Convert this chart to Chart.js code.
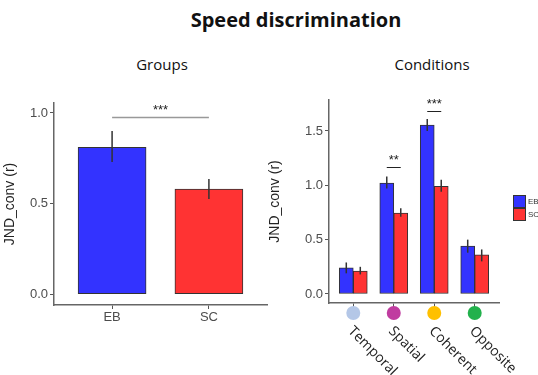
<!DOCTYPE html>
<html>
<head>
<meta charset="utf-8">
<script src="https://cdn.jsdelivr.net/npm/chart.js@4.4.1/dist/chart.umd.min.js"></script>
<style>
body { margin: 0; background: #fff; }
#wrap { position: relative; width: 538px; height: 375px; overflow: hidden; background: #fff; font-family: "Open Sans", sans-serif; }
.ttl { position: absolute; white-space: nowrap; transform: translateX(-50%); color: #111; }
.leg { position: absolute; left: 513px; width: 11px; height: 11px; border: 1px solid #333; }
.legt { position: absolute; left: 528px; font: 8px "Liberation Sans", Arial, sans-serif; color: #333; }
</style>
</head>
<body>
<div id="wrap">
  <div class="ttl" style="left:296px; top:6px; font-size:20px; font-weight:bold;">Speed discrimination</div>
  <div class="ttl" style="left:162px; top:54px; font-size:15px;">Groups</div>
  <div class="ttl" style="left:432px; top:54px; font-size:15px;">Conditions</div>
  <canvas id="chart-groups" style="position:absolute; left:0; top:85px;" width="275" height="240"></canvas>
  <canvas id="chart-conditions" style="position:absolute; left:265px; top:85px;" width="273" height="290"></canvas>
  <div class="leg" style="top:195px; background:#3333ff;"></div>
  <div class="leg" style="top:208px; background:#ff3333;"></div>
  <div class="legt" style="top:197px;">EB</div>
  <div class="legt" style="top:210px;">SC</div>
</div>
<script>
// groups panel
const groups = ['EB', 'SC'];
const groupMeans = [0.81, 0.58];
const groupLow = [0.73, 0.525];
const groupHigh = [0.90, 0.635];
const groupSig = [{ from: 1, to: 2, y: 0.978, label: '***' }];

// conditions panel
const conditions = ['Temporal', 'Spatial', 'Coherent', 'Opposite'];
const conditionDots = ['#b4c7e7', '#c03ca0', '#ffc000', '#22b14c'];
const ebMeans = [0.24, 1.02, 1.555, 0.44];
const ebLow = [0.19, 0.97, 1.50, 0.38];
const ebHigh = [0.29, 1.08, 1.61, 0.50];
const scMeans = [0.21, 0.745, 0.99, 0.36];
const scLow = [0.18, 0.71, 0.94, 0.30];
const scHigh = [0.25, 0.79, 1.05, 0.41];
const conditionSig = [
    { cat: 2, y: 1.17, label: '**' },
    { cat: 3, y: 1.68, label: '***' }
];

const yTicks = [0, 0.5, 1.0, 1.5];
const blue = '#3333ff';
const red = '#ff3333';

function toPoints(values) {
    return values.map((v, i) => ({ x: i + 1, y: v }));
}

function axisOptions(xMax, yMin, yMax, yWidth, xHeight, xLabels, showXTicks) {
    return {
        x: {
            type: 'linear',
            offset: false,
            min: 0.4,
            max: xMax,
            afterFit: (s) => { s.height = xHeight; },
            afterBuildTicks: (s) => { s.ticks = xLabels.map((l, i) => ({ value: i + 1 })); },
            ticks: {
                display: showXTicks,
                padding: 1,
                color: '#4d4d4d',
                font: { family: 'Liberation Sans', size: 13 },
                callback: (v) => xLabels[v - 1]
            },
            grid: { offset: false, drawOnChartArea: false, tickLength: 4, color: '#555' },
            border: { color: '#666', width: 1.5 }
        },
        y: {
            min: yMin,
            max: yMax,
            afterFit: (s) => { s.width = yWidth; },
            afterBuildTicks: (s) => { s.ticks = yTicks.filter(v => v <= yMax).map(v => ({ value: v })); },
            ticks: {
                padding: 2,
                color: '#4d4d4d',
                font: { family: 'Liberation Sans', size: 13 },
                callback: (v) => v.toFixed(1)
            },
            title: {
                display: true,
                text: 'JND_conv (r)',
                color: '#222',
                padding: { top: 2, bottom: 0 },
                font: { family: 'Liberation Sans', size: 14 }
            },
            grid: { drawOnChartArea: false, tickLength: 4, color: '#555' },
            border: { color: '#666', width: 1.5 }
        }
    };
}

function drawErrorBars(chart, lows, highs) {
    const ctx = chart.ctx;
    const y = chart.scales.y;
    ctx.save();
    ctx.strokeStyle = '#333';
    ctx.lineWidth = 1.5;
    lows.forEach((low, d) => {
        const meta = chart.getDatasetMeta(d);
        meta.data.forEach((bar, i) => {
            ctx.beginPath();
            ctx.moveTo(bar.x, y.getPixelForValue(low[i]));
            ctx.lineTo(bar.x, y.getPixelForValue(highs[d][i]));
            ctx.stroke();
        });
    });
    ctx.restore();
}

const groupPlugin = {
    id: 'groupExtras',
    afterDatasetsDraw(chart) {
        drawErrorBars(chart, [groupLow], [groupHigh]);
        const ctx = chart.ctx;
        const x = chart.scales.x, y = chart.scales.y;
        groupSig.forEach(s => {
            const py = Math.round(y.getPixelForValue(s.y)) + 0.5;
            ctx.save();
            ctx.strokeStyle = '#999';
            ctx.lineWidth = 1.5;
            ctx.beginPath();
            ctx.moveTo(x.getPixelForValue(s.from), py);
            ctx.lineTo(x.getPixelForValue(s.to), py);
            ctx.stroke();
            ctx.fillStyle = '#222';
            ctx.font = '13px "Liberation Sans"';
            ctx.textAlign = 'center';
            ctx.textBaseline = 'bottom';
            ctx.fillText(s.label, (x.getPixelForValue(s.from) + x.getPixelForValue(s.to)) / 2, py - 1);
            ctx.restore();
        });
    }
};

const conditionPlugin = {
    id: 'conditionExtras',
    afterDatasetsDraw(chart) {
        drawErrorBars(chart, [ebLow, scLow], [ebHigh, scHigh]);
        const ctx = chart.ctx;
        const x = chart.scales.x, y = chart.scales.y;
        conditionSig.forEach(s => {
            const eb = chart.getDatasetMeta(0).data[s.cat - 1];
            const sc = chart.getDatasetMeta(1).data[s.cat - 1];
            const py = Math.round(y.getPixelForValue(s.y)) + 0.5;
            ctx.save();
            ctx.strokeStyle = '#222';
            ctx.lineWidth = 1;
            ctx.beginPath();
            ctx.moveTo(eb.x, py);
            ctx.lineTo(sc.x, py);
            ctx.stroke();
            ctx.fillStyle = '#222';
            ctx.font = '13px "Liberation Sans"';
            ctx.textAlign = 'center';
            ctx.textBaseline = 'bottom';
            ctx.fillText(s.label, (eb.x + sc.x) / 2, py - 1);
            ctx.restore();
        });
        // coloured dots and rotated labels under the axis
        const base = chart.chartArea.bottom;
        conditions.forEach((c, i) => {
            const cx = x.getPixelForValue(i + 1);
            ctx.save();
            ctx.fillStyle = conditionDots[i];
            ctx.beginPath();
            ctx.arc(cx, base + 10, 7, 0, Math.PI * 2);
            ctx.fill();
            ctx.translate(cx + 2, base + 21);
            ctx.rotate(Math.PI / 4);
            ctx.fillStyle = '#222';
            ctx.font = '14px "Open Sans"';
            ctx.textAlign = 'left';
            ctx.textBaseline = 'top';
            ctx.fillText(c, 0, 0);
            ctx.restore();
        });
    }
};

function loadChartGroups() {
    const ctx = document.getElementById('chart-groups').getContext('2d');
    const myChart = new Chart(ctx, {
        type: 'bar',
        data: {
            datasets: [{
                label: 'Groups',
                data: toPoints(groupMeans),
                backgroundColor: [blue, red],
                borderColor: '#333',
                borderWidth: 1,
                borderSkipped: false,
                barThickness: 68
            }]
        },
        options: {
            responsive: false,
            animation: false,
            layout: { padding: { top: 18, right: 8, left: 0, bottom: 0 } },
            plugins: { legend: { display: false }, tooltip: { enabled: false } },
            scales: axisOptions(2.6, -0.06, 1.055, 54, 20, groups, true)
        },
        plugins: [groupPlugin]
    });
}

function loadChartConditions() {
    const ctx = document.getElementById('chart-conditions').getContext('2d');
    const myChart = new Chart(ctx, {
        type: 'bar',
        data: {
            datasets: [{
                label: 'EB',
                data: toPoints(ebMeans),
                backgroundColor: blue,
                borderColor: '#333',
                borderWidth: 1,
                borderSkipped: false,
                barThickness: 14
            }, {
                label: 'SC',
                data: toPoints(scMeans),
                backgroundColor: red,
                borderColor: '#333',
                borderWidth: 1,
                borderSkipped: false,
                barThickness: 14
            }]
        },
        options: {
            responsive: false,
            animation: false,
            layout: { padding: { top: 15, right: 39, left: 0, bottom: 0 } },
            plugins: { legend: { display: false }, tooltip: { enabled: false } },
            scales: axisOptions(4.6, -0.083, 1.785, 64, 72, conditions, false)
        },
        plugins: [conditionPlugin]
    });
}

loadChartGroups();
loadChartConditions();
</script>
</body>
</html>
